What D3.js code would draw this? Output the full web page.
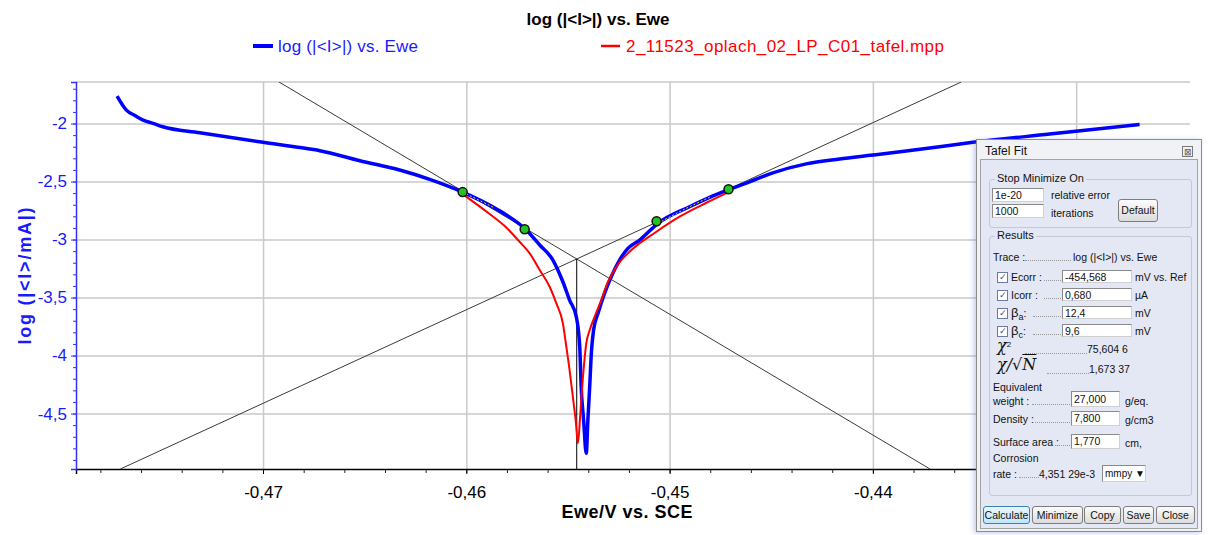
<!DOCTYPE html>
<html>
<head>
<meta charset="utf-8">
<script src="https://cdn.jsdelivr.net/npm/d3@7"></script>
<style>
body { margin: 0; background: #fff; font-family: "Liberation Sans", Arial, sans-serif; }
#chart { position: absolute; left: 0; top: 0; }
#tafel { position: absolute; left: 976px; top: 139px; width: 224px; height: 391px;
  background: #f1f2f6; border: 1px solid #8c8c8c; box-shadow: -2px 1px 5px rgba(90,100,200,0.35);
  font-size: 10.5px; color: #111; }
#tafel div, #tafel span { position: absolute; white-space: nowrap; }
.inner { left: 3px; top: 19px; width: 216px; height: 368px; background: #e4e8f4; border: 1px solid #a3a3a3; }
.grp { border: 1px solid #c3c9d8; border-radius: 3px; }
.glab { background: #e4e8f4; padding: 0 2px; font-size: 11px; }
.inp { background: #fff; border: 1px solid #8a8a8a; border-right-color: #d0d0d0; border-bottom-color: #d0d0d0;
  padding-left: 2px; line-height: 12px; font-size: 10.5px; box-sizing: border-box; }
.btn { background: linear-gradient(#fbfbfb, #dcdcdc); border: 1px solid #7d7d7d; border-radius: 3px;
  text-align: center; box-sizing: border-box; font-size: 10.5px; }
.chk { width: 9px; height: 9px; border: 1px solid #6d7aa0; background: #fff; font-size: 9px; line-height: 9px;
  text-align: center; color: #2a4fb0; }
.dots { border-bottom: 1px dotted #9a9a9a; height: 0; }
</style>
</head>
<body>
<div id="chart"></div>
<div id="tafel"></div>
<script>
// measured trace: potential (V vs SCE) and log|I/mA|
const blueE = [-0.47718, -0.47672, -0.47626, -0.47590, -0.47541, -0.47493, -0.47311, -0.47000, -0.46819,
  -0.46721, -0.46524, -0.46328, -0.46180, -0.46018, -0.45860, -0.45705, -0.45639, -0.45574, -0.45525,
  -0.45492, -0.45459, -0.45442, -0.45435, -0.45423, -0.45410, -0.45402, -0.45393, -0.45385, -0.45374,
  -0.45352, -0.45320, -0.45287, -0.45246, -0.45205, -0.45147, -0.45057, -0.44902, -0.44803, -0.44705,
  -0.44607, -0.44492, -0.44328, -0.44164, -0.44000, -0.43836, -0.43672, -0.43508, -0.43130, -0.42688];
const blueLogI = [-1.763, -1.884, -1.935, -1.970, -1.998, -2.028, -2.079, -2.162, -2.207,
  -2.234, -2.321, -2.401, -2.481, -2.591, -2.728, -2.918, -3.047, -3.177, -3.364,
  -3.522, -3.666, -3.924, -4.269, -4.556, -4.843, -4.556, -4.269, -3.981, -3.780,
  -3.636, -3.464, -3.321, -3.177, -3.076, -3.004, -2.860, -2.717, -2.636, -2.567,
  -2.502, -2.425, -2.348, -2.306, -2.272, -2.237, -2.200, -2.162, -2.091, -2.009];

// fitted trace (2_11523_oplach_02_LP_C01_tafel.mpp)
const redE = [-0.46018, -0.45885, -0.45811, -0.45738, -0.45688, -0.45639, -0.45590, -0.45557, -0.45525,
  -0.45508, -0.45492, -0.45476, -0.45462, -0.45451, -0.45439, -0.45426, -0.45410, -0.45393, -0.45369,
  -0.45336, -0.45303, -0.45262, -0.45197, -0.45065, -0.44951, -0.44819, -0.44713];
const redLogI = [-2.608, -2.780, -2.884, -3.019, -3.119, -3.263, -3.407, -3.550, -3.722,
  -3.924, -4.125, -4.355, -4.556, -4.757, -4.498, -4.183, -3.897, -3.780, -3.666,
  -3.522, -3.364, -3.234, -3.105, -2.933, -2.803, -2.683, -2.593];

// fit range markers
const markE = [-0.46018, -0.45713, -0.45064, -0.44710];
const markLogI = [-2.591, -2.911, -2.842, -2.567];

// tafel fit results
const Ecorr = -0.454568;   // V
const icorr = 0.000680;    // mA
const betaA = 0.0124;      // V/decade
const betaC = 0.0096;      // V/decade

const xTicks = [-0.47, -0.46, -0.45, -0.44, -0.43];
const yTicks = [-4.5, -4, -3.5, -3, -2.5, -2];
const xMinor = d3.range(-0.478, -0.4245, 0.002);
const yMinor = d3.range(-4.9, -1.65, 0.1);

const panelRows = [
  ["Ecorr", "-454,568", "mV vs. Ref"],
  ["Icorr", "0,680", "µA"],
  ["βa", "12,4", "mV"],
  ["βc", "9,6", "mV"]
];

// THE CHART
let width = 1208, height = 535;
let plot = { left: 76, right: 1190, top: 82, bottom: 469 };

let svg = d3.select("#chart").append("svg")
  .attr("width", width).attr("height", height)
  .style("font-family", "'Liberation Sans', Arial, sans-serif");

let x = d3.scaleLinear().domain([-0.4792, -0.4244]).range([plot.left, plot.right]);
let y = d3.scaleLinear().domain([-4.978, -1.642]).range([plot.bottom, plot.top]);
let fmt = v => String(+v.toFixed(3)).replace(".", ",");

// grid
svg.append("g")
  .attr("transform", "translate(0," + plot.bottom + ")")
  .call(d3.axisBottom(x).tickValues(xTicks).tickSize(-(plot.bottom - plot.top)).tickFormat(""))
  .call(g => g.select(".domain").remove())
  .selectAll("line").attr("stroke", "#c9c9c9").attr("stroke-width", 1.5);
svg.append("g")
  .attr("transform", "translate(" + plot.left + ",0)")
  .call(d3.axisLeft(y).tickValues(yTicks).tickSize(-(plot.right - plot.left)).tickFormat(""))
  .call(g => g.select(".domain").remove())
  .selectAll("line").attr("stroke", "#c9c9c9").attr("stroke-width", 1.5);
svg.append("line")
  .attr("x1", plot.left).attr("x2", plot.right).attr("y1", plot.top).attr("y2", plot.top)
  .attr("stroke", "#c9c9c9").attr("stroke-width", 1.5);

// x axis
svg.append("g")
  .attr("transform", "translate(0," + plot.bottom + ")")
  .call(d3.axisBottom(x).tickValues(xMinor).tickSize(4).tickFormat(""))
  .call(g => g.select(".domain").remove())
  .selectAll("line").attr("stroke", "#222");
let xAxis = svg.append("g")
  .attr("transform", "translate(0," + plot.bottom + ")")
  .call(d3.axisBottom(x).tickValues(xTicks).tickSize(5).tickPadding(12).tickFormat(fmt));
xAxis.select(".domain").attr("stroke", "#000").attr("stroke-width", 1.5);
xAxis.selectAll("text").attr("fill", "#000").style("font-size", "17px");

// y axis
svg.append("g")
  .attr("transform", "translate(" + plot.left + ",0)")
  .call(d3.axisLeft(y).tickValues(yMinor).tickSize(3).tickFormat(""))
  .call(g => g.select(".domain").remove())
  .selectAll("line").attr("stroke", "#3030ff");
let yAxis = svg.append("g")
  .attr("transform", "translate(" + plot.left + ",0)")
  .call(d3.axisLeft(y).tickValues(yTicks).tickSize(5).tickPadding(4).tickFormat(fmt));
yAxis.select(".domain").attr("stroke", "#3030ff").attr("stroke-width", 1.5);
yAxis.selectAll("line").attr("stroke", "#3030ff");
yAxis.selectAll("text").attr("fill", "#1a1aff").style("font-size", "17px");

// titles
svg.append("text").attr("x", 598).attr("y", 25).attr("text-anchor", "middle")
  .style("font-size", "17px").style("font-weight", "bold").attr("textLength", 143)
  .text("log (|<I>|) vs. Ewe");
svg.append("text").attr("x", 627).attr("y", 518).attr("text-anchor", "middle")
  .style("font-size", "18px").style("font-weight", "bold").attr("textLength", 131)
  .text("Ewe/V vs. SCE");
svg.append("text").attr("transform", "translate(31,276) rotate(-90)").attr("text-anchor", "middle")
  .style("font-size", "18px").style("font-weight", "bold").attr("fill", "#1a1aff").attr("textLength", 137)
  .text("log (|<I>/mA|)");

// legend
svg.append("line").attr("x1", 253).attr("x2", 273).attr("y1", 46).attr("y2", 46)
  .attr("stroke", "#0000ff").attr("stroke-width", 4);
svg.append("text").attr("x", 278).attr("y", 52).style("font-size", "17px").attr("fill", "#1a1aff")
  .attr("textLength", 140).text("log (|<I>|) vs. Ewe");
svg.append("line").attr("x1", 601).attr("x2", 620).attr("y1", 46).attr("y2", 46)
  .attr("stroke", "#ff0000").attr("stroke-width", 2.5);
svg.append("text").attr("x", 626).attr("y", 52).style("font-size", "17px").attr("fill", "#ff0000")
  .attr("textLength", 318).text("2_11523_oplach_02_LP_C01_tafel.mpp");

// clip to plot
svg.append("clipPath").attr("id", "clip").append("rect")
  .attr("x", plot.left).attr("y", plot.top)
  .attr("width", plot.right - plot.left).attr("height", plot.bottom - plot.top);
let area = svg.append("g").attr("clip-path", "url(#clip)");

// tafel lines
let logIcorr = Math.log10(icorr);
let yEnds = y.domain();
let anodic = yEnds.map(v => [Ecorr + (v - logIcorr) * betaA, v]);
let cathodic = yEnds.map(v => [Ecorr - (v - logIcorr) * betaC, v]);
let line = d3.line().x(d => x(d[0])).y(d => y(d[1]));
[anodic, cathodic].forEach(seg => {
  area.append("path").attr("d", line(seg)).attr("fill", "none")
    .attr("stroke", "#3a3a3a").attr("stroke-width", 1);
});
area.append("line")
  .attr("x1", x(Ecorr)).attr("x2", x(Ecorr)).attr("y1", y(logIcorr)).attr("y2", plot.bottom)
  .attr("stroke", "#000").attr("stroke-width", 1);

// curves
let blue = blueE.map((e, i) => [e, blueLogI[i]]);
let red = redE.map((e, i) => [e, redLogI[i]]);
let smooth = d3.line().x(d => x(d[0])).y(d => y(d[1])).curve(d3.curveMonotoneX);
area.append("path").attr("d", smooth(blue)).attr("fill", "none")
  .attr("stroke", "#0000ff").attr("stroke-width", 3.5).attr("stroke-linejoin", "round");
area.append("path").attr("d", smooth(red)).attr("fill", "none")
  .attr("stroke", "#ff0000").attr("stroke-width", 2).attr("stroke-linejoin", "round");

// fit ranges highlighted on the trace
[[markE[0], markE[1]], [markE[2], markE[3]]].forEach(r => {
  let seg = blue.filter(d => d[0] >= r[0] - 1e-6 && d[0] <= r[1] + 1e-6);
  area.append("path").attr("d", smooth(seg)).attr("fill", "none")
    .attr("stroke", "#e8e020").attr("stroke-width", 1).attr("stroke-dasharray", "2,2");
});

// markers
area.selectAll("circle.mark").data(markE).enter().append("circle")
  .attr("class", "mark")
  .attr("cx", d => x(d)).attr("cy", (d, i) => y(markLogI[i])).attr("r", 4.5)
  .attr("fill", "#22c422").attr("stroke", "#111").attr("stroke-width", 1.5);

// TAFEL FIT PANEL
let p = d3.select("#tafel");
function put(cls, left, top, text, w, h) {
  let el = p.append("div").attr("class", cls).style("left", left + "px").style("top", top + "px");
  if (w) el.style("width", w + "px");
  if (h) el.style("height", h + "px");
  if (text !== null && text !== undefined) el.html(text);
  return el;
}
put("", 8, 4, "Tafel Fit").style("font-size", "12px");
put("", 205, 6, "&#x22A0;", 11, 11).style("border", "1px solid #7a7a7a").style("font-size", "9px")
  .style("line-height", "10px").style("text-align", "center").style("color", "#555").style("box-sizing", "border-box");
put("inner", 3, 19, null);

put("grp", 12, 39, null, 201, 47);
put("glab", 18, 32, "Stop Minimize On");
put("inp", 15, 48, "1e-20", 52, 14);
put("inp", 15, 64, "1000", 52, 14);
put("", 74, 49, "relative error");
put("", 74, 67, "iterations");
put("btn", 141, 59, "Default", 40, 23).style("line-height", "21px");

put("grp", 12, 96, null, 201, 258);
put("glab", 18, 89, "Results");
put("", 16, 111, "Trace :");
put("dots", 48, 120, null, 46);
put("", 96, 111, "log (|&lt;I&gt;|) vs. Ewe");

panelRows.forEach((r, i) => {
  let top = 131 + i * 18;
  put("chk", 20, top + 1, "&#10003;");
  let lab = r[0].startsWith("β")
    ? "<span style='position:static;font-size:13px'>β</span><sub style='font-size:9px'>" + r[0].slice(1) + "</sub>:"
    : r[0] + " :";
  put("", 34, top - (r[0].startsWith("β") ? 2 : 0), lab);
  put("dots", r[0].startsWith("β") ? 56 : 67, top + 9, null, r[0].startsWith("β") ? 28 : 17);
  put("inp", 85, top - 1, r[1], 70, 13);
  put("", 158, top, r[2]);
});

put("", 20, 196, "<i style='font-family:\"DejaVu Serif\",serif;font-size:16px'>χ</i><sup style='font-size:8px'>2</sup>");
put("dots", 48, 213, null, 62);
put("", 110, 203, "75,604 6");
put("", 20, 215, "<i style='font-family:\"DejaVu Serif\",serif;font-size:16px'>χ/√<span style='position:static;text-decoration:overline'>N</span></i>");
put("dots", 70, 233, null, 42);
put("", 112, 223, "1,673 37");

put("", 16, 241, "Equivalent");
put("", 16, 255, "weight :");
put("dots", 55, 264, null, 38);
put("inp", 94, 251, "27,000", 49, 16).style("line-height", "14px");
put("", 148, 255, "g/eq.");
put("", 16, 273, "Density :");
put("dots", 58, 282, null, 35);
put("inp", 94, 271, "7,800", 49, 15).style("line-height", "13px");
put("", 148, 274, "g/cm3");
put("", 16, 296, "Surface area :");
put("dots", 78, 305, null, 15);
put("inp", 94, 294, "1,770", 49, 15).style("line-height", "13px");
put("", 148, 297, "cm,");
put("", 16, 312, "Corrosion");
put("", 16, 328, "rate :");
put("dots", 42, 337, null, 20);
put("", 62, 328, "4,351 29e-3");
put("inp", 125, 325, "mmpy &#9660;", 44, 17).style("line-height", "15px").style("font-size", "10px");

[["Calculate", 6, 47], ["Minimize", 55, 51], ["Copy", 107, 37], ["Save", 146, 31], ["Close", 179, 39]]
  .forEach(b => {
    let el = put("btn", b[1], 366, b[0], b[2], 18).style("line-height", "16px");
    if (b[0] === "Calculate") el.style("border", "1px solid #3c7fb1").style("background", "linear-gradient(#eaf6fd,#bee6fd)");
  });
</script>
</body>
</html>
